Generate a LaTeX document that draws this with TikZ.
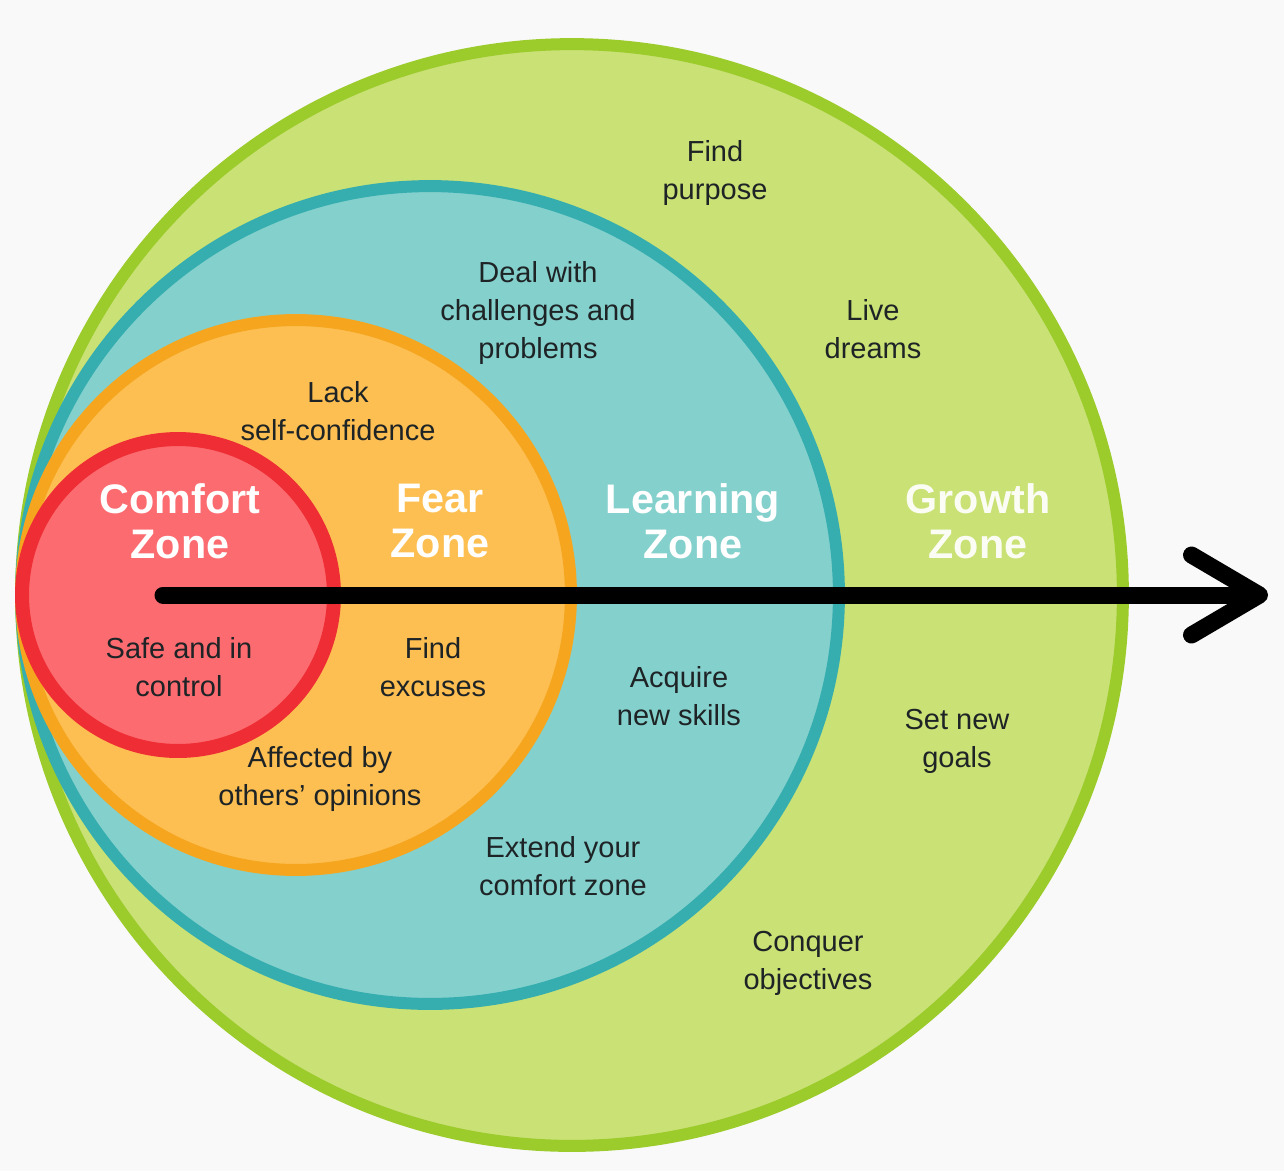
\documentclass[tikz,border=0pt]{standalone}
\usepackage{fontspec}
\setmainfont{Liberation Sans}
\usetikzlibrary{arrows.meta}
\definecolor{bgpaper}{HTML}{F9F9F9}
\definecolor{growthline}{HTML}{9CCB2C}
\definecolor{growthfill}{HTML}{C9E175}
\definecolor{learnline}{HTML}{36AEB0}
\definecolor{learnfill}{HTML}{84D0CC}
\definecolor{fearline}{HTML}{F6A51E}
\definecolor{fearfill}{HTML}{FDBF52}
\definecolor{comfortline}{HTML}{EE2D34}
\definecolor{comfortfill}{HTML}{FC6B70}
\definecolor{notetext}{HTML}{1E2426}

\begin{document}
\begin{tikzpicture}[
    x=0.02cm, y=-0.02cm,
    zone/.style n args={2}{draw=#1, fill=#2, line width=0.24cm},
    title/.style={font=\fontsize{23.5pt}{25.5pt}\selectfont\bfseries,
                  text=white, align=center},
    note/.style={font=\fontsize{16.5pt}{21.5pt}\selectfont,
                 text=notetext, align=center},
    journey/.style={line width=0.34cm, line cap=round,
                    -{Straight Barb[length=1.36cm, width=1.6cm,
                                    line cap=round, line join=round]}},
]
    % paper
    \fill[bgpaper] (0,0) rectangle (1284,1171);

    % the four zones, all touching on the left
    \draw[zone={growthline}{growthfill}] (572,595) circle[radius=11.02cm];
    \draw[zone={learnline}{learnfill}] (430,595) circle[radius=8.18cm];
    \draw[zone={fearline}{fearfill}] (296,595) circle[radius=5.50cm];
    \draw[zone={comfortline}{comfortfill}, line width=0.28cm]
        (178,595) circle[radius=3.12cm];

    % way out
    \coordinate (start) at (163,595);
    \coordinate (goal) at (1268,595);
    \draw[journey] (start) -- (goal);

    % zone names
    \node[title] (comfort) at (180,521) {Comfort\\Zone};
    \node[title] (fear) at (440,521) {Fear\\Zone};
    \node[title] (learning) at (693,521) {Learning\\Zone};
    \node[title, text=white!92!growthfill] (growth) at (978,521) {Growth\\Zone};

    % comfort and fear
    \node[note] (safe) at (179,667) {Safe and in\\control};
    \node[note] (lack) at (338,411) {Lack\\self-confidence};
    \node[note] (excuses) at (433,667) {Find\\excuses};
    \node[note] (opinions) at (320,779) {Affected by\\others’ opinions};

    % learning
    \node[note] (challenges) at (538,313) {Deal with\\challenges and\\problems};
    \node[note] (skills) at (679,696) {Acquire\\new skills};
    \node[note] (extend) at (563,866) {Extend your\\comfort zone};

    % growth
    \node[note] (purpose) at (715,173) {Find\\purpose};
    \node[note] (dreams) at (873,329) {Live\\dreams};
    \node[note] (goals) at (957,741) {Set new\\goals};
    \node[note] (conquer) at (808,963) {Conquer\\objectives};
\end{tikzpicture}
\end{document}
